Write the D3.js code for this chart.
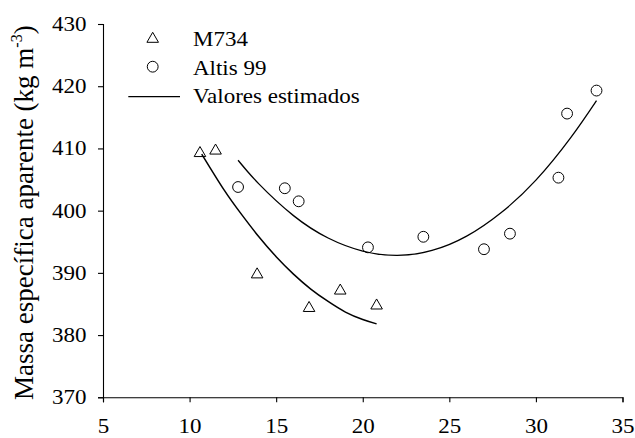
<!DOCTYPE html>
<html><head><meta charset="utf-8">
<script src="https://cdn.jsdelivr.net/npm/d3@7"></script>
<style>body{margin:0;background:#fff}svg{display:block}</style>
</head><body><svg id="c" width="635" height="438"></svg>
<script>
// Observed data
const m734X = [10.6, 11.5, 13.9, 16.9, 18.7, 20.8];
const m734Y = [409.5, 409.9, 390.0, 384.6, 387.4, 385.0];
const altisX = [12.8, 15.5, 16.3, 20.3, 23.5, 27.0, 28.5, 31.3, 31.8, 33.5];
const altisY = [403.8, 403.6, 401.5, 394.1, 395.8, 393.8, 396.3, 405.3, 415.6, 419.3];
// Estimated (fitted) curves
const fitM734X = [10.7, 12, 13, 14, 15, 16, 17, 18, 19, 20, 20.8];
const fitM734Y = [409.1, 403.3, 399.4, 395.8, 392.6, 389.8, 387.4, 385.4, 383.7, 382.5, 381.8];
const fitAltisX = [12.8, 14, 16, 18, 20, 22, 24, 26, 28, 30, 32, 33.5];
const fitAltisY = [408.1, 404.3, 399.2, 395.6, 393.5, 392.8, 393.6, 395.9, 399.7, 404.9, 411.7, 417.7];
const xTicks = [5, 10, 15, 20, 25, 30, 35];
const yTicks = [370, 380, 390, 400, 410, 420, 430];
const legendLabels = ["M734", "Altis 99", "Valores estimados"];

const FONT = "'Liberation Serif', 'Times New Roman', serif";
const SX = 1.15; // horizontal stretch of the reference lettering
const svg = d3.select("#c");
const x = d3.scaleLinear().domain([5, 35]).range([103, 622.5]);
const y = d3.scaleLinear().domain([370, 430]).range([397.3, 24]);
const fs = 20;

// axes
const gx = svg.append("g").attr("transform", `translate(0,${y(370)})`)
  .call(d3.axisBottom(x).tickValues(xTicks).tickSize(5).tickPadding(17).tickFormat(d3.format("d")));
const gy = svg.append("g").attr("transform", `translate(${x(5)},0)`)
  .call(d3.axisLeft(y).tickValues(yTicks).tickSize(5).tickFormat(d3.format("d")));
[gx, gy].forEach(g => {
  g.attr("font-family", null).attr("font-size", null);
  g.select(".domain").attr("stroke", "#000").attr("stroke-width", 1.1);
  g.selectAll(".tick line").attr("stroke", "#000").attr("stroke-width", 1.1);
  g.selectAll(".tick text").style("font-family", FONT).style("font-size", fs + "px")
    .attr("fill", "#000").attr("transform", `scale(${SX},1)`);
});
gy.selectAll(".tick text").attr("x", -16.5 / SX);

// y title
const t = svg.append("text").attr("transform", `translate(33,${(y(370)+y(430))/2 + 2}) rotate(-90)`)
  .attr("text-anchor", "middle")
  .style("font-family", FONT).style("font-size", "27px").attr("fill", "#000");
t.append("tspan").text("Massa específica aparente (kg m");
t.append("tspan").text("-3").style("font-size", "16px").attr("dy", -11);
t.append("tspan").text(")").attr("dy", 11);

// curves
const line = d3.line().x(d => x(d[0])).y(d => y(d[1])).curve(d3.curveNatural);
svg.append("path").datum(d3.zip(fitM734X, fitM734Y)).attr("d", line)
  .attr("fill", "none").attr("stroke", "#000").attr("stroke-width", 1.5);
svg.append("path").datum(d3.zip(fitAltisX, fitAltisY)).attr("d", line)
  .attr("fill", "none").attr("stroke", "#000").attr("stroke-width", 1.3);

// markers
const tri = d3.symbol().type(d3.symbolTriangle).size(58);
const circ = d3.symbol().type(d3.symbolCircle).size(92);
const triOff = Math.sqrt(58 / (Math.sqrt(3) * 3)) / 2;
svg.append("g").selectAll("path").data(d3.zip(m734X, m734Y)).join("path")
  .attr("d", tri).attr("transform", d => `translate(${x(d[0])},${y(d[1]) + triOff})`)
  .attr("fill", "none").attr("stroke", "#000").attr("stroke-width", 1);
svg.append("g").selectAll("path").data(d3.zip(altisX, altisY)).join("path")
  .attr("d", circ).attr("transform", d => `translate(${x(d[0])},${y(d[1])})`)
  .attr("fill", "none").attr("stroke", "#000").attr("stroke-width", 1);

// legend
const lg = svg.append("g");
lg.append("path").attr("d", tri).attr("transform", `translate(152.7,${37.3 + triOff})`)
  .attr("fill", "none").attr("stroke", "#000").attr("stroke-width", 1);
lg.append("path").attr("d", circ).attr("transform", "translate(152.7,66.7)")
  .attr("fill", "none").attr("stroke", "#000").attr("stroke-width", 1);
lg.append("line").attr("x1", 128.3).attr("x2", 180).attr("y1", 96.7).attr("y2", 96.7)
  .attr("stroke", "#000").attr("stroke-width", 1.2);
[46.5, 75, 103.5].forEach((by, i) => {
  lg.append("text").attr("x", 193 / SX).attr("y", by).attr("transform", `scale(${SX},1)`)
    .style("font-family", FONT).style("font-size", fs + "px").attr("fill", "#000").text(legendLabels[i]);
});
</script></body></html>
